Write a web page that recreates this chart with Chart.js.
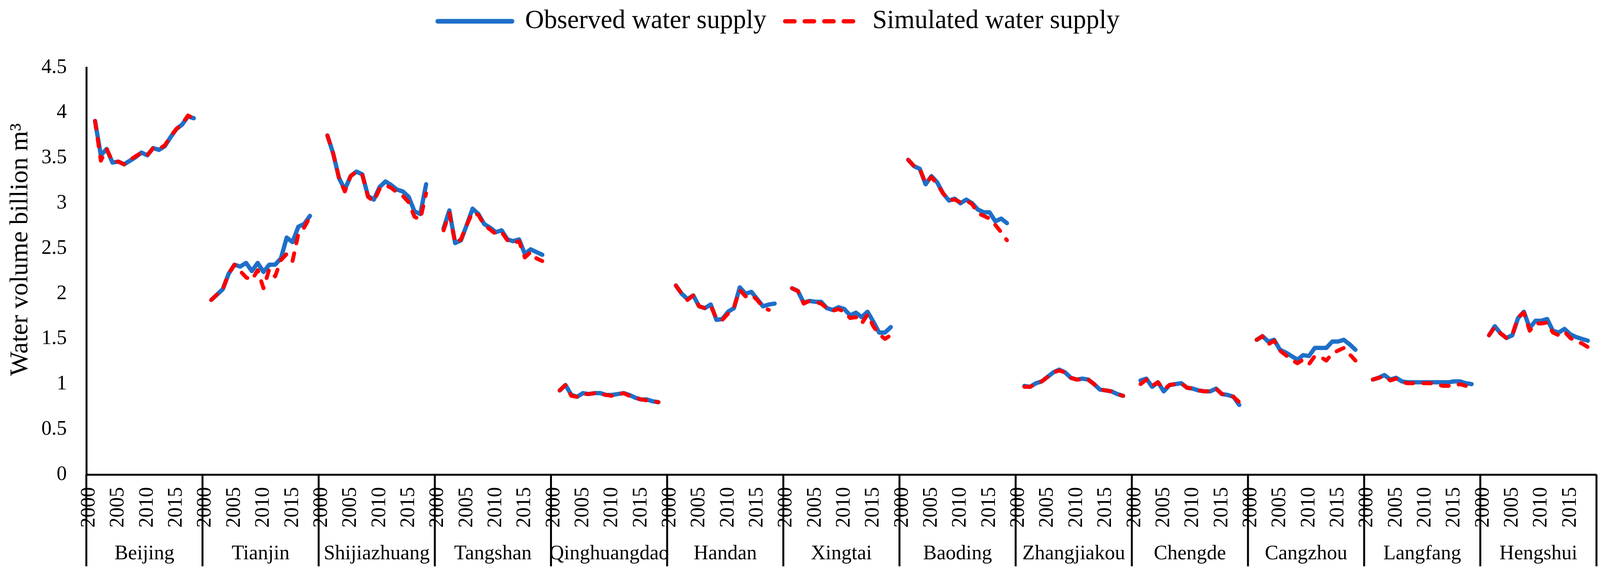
<!DOCTYPE html>
<html>
<head>
<meta charset="utf-8">
<script src="https://cdn.jsdelivr.net/npm/chart.js@4.4.0/dist/chart.umd.min.js"></script>
<style>
html,body{margin:0;padding:0;background:#fff;}
#wrap{width:4174px;height:1485px;}
</style>
</head>
<body>
<div id="wrap"><canvas id="c" width="4174" height="1485"></canvas></div>
<script>
// ---- categories ----
const cities = ['Beijing','Tianjin','Shijiazhuang','Tangshan','Qinghuangdao','Handan','Xingtai','Baoding','Zhangjiakou','Chengde','Cangzhou','Langfang','Hengshui'];
const axisYears = ['2000','2001','2002','2003','2004','2005','2006','2007','2008','2009','2010','2011','2012','2013','2014','2015','2016','2017','2018','2019'];
const shownYearLabels = ['2000','2005','2010','2015'];
const dataYears = ['2001','2002','2003','2004','2005','2006','2007','2008','2009','2010','2011','2012','2013','2014','2015','2016','2017','2018'];
const yTicks = [0,0.5,1,1.5,2,2.5,3,3.5,4,4.5];
const yTitle = 'Water volume billion m³';

// ---- observed water supply (billion m3), 2001-2018 ----
const obsBeijing      = [3.91,3.53,3.60,3.45,3.46,3.43,3.47,3.51,3.56,3.53,3.61,3.59,3.63,3.73,3.82,3.87,3.96,3.94];
const obsTianjin      = [1.93,1.99,2.05,2.22,2.32,2.30,2.34,2.25,2.34,2.24,2.32,2.32,2.39,2.62,2.57,2.74,2.77,2.86];
const obsShijiazhuang = [3.75,3.55,3.28,3.15,3.30,3.35,3.32,3.08,3.04,3.18,3.24,3.20,3.15,3.13,3.07,2.91,2.88,3.21];
const obsTangshan     = [2.72,2.92,2.56,2.59,2.76,2.94,2.88,2.77,2.73,2.68,2.70,2.60,2.58,2.60,2.44,2.49,2.46,2.43];
const obsQinghuangdao = [0.93,0.99,0.88,0.86,0.90,0.89,0.90,0.90,0.88,0.88,0.89,0.90,0.88,0.85,0.83,0.83,0.81,0.80];
const obsHandan       = [2.09,2.00,1.94,1.98,1.86,1.84,1.88,1.71,1.72,1.80,1.84,2.07,2.00,2.02,1.94,1.86,1.88,1.89];
const obsXingtai      = [2.06,2.03,1.90,1.92,1.91,1.91,1.84,1.82,1.85,1.83,1.76,1.79,1.74,1.80,1.69,1.57,1.57,1.63];
const obsBaoding      = [3.48,3.41,3.38,3.21,3.30,3.23,3.11,3.03,3.05,3.00,3.04,3.00,2.93,2.90,2.90,2.80,2.83,2.78];
const obsZhangjiakou  = [0.98,0.97,1.01,1.03,1.08,1.13,1.16,1.13,1.07,1.05,1.06,1.05,1.00,0.94,0.93,0.92,0.89,0.87];
const obsChengde      = [1.04,1.06,0.97,1.02,0.92,0.99,1.00,1.01,0.96,0.95,0.93,0.92,0.92,0.95,0.89,0.88,0.86,0.77];
const obsCangzhou     = [1.49,1.53,1.47,1.49,1.38,1.35,1.31,1.27,1.32,1.31,1.40,1.40,1.40,1.47,1.47,1.49,1.44,1.38];
const obsLangfang     = [1.05,1.07,1.10,1.05,1.07,1.03,1.02,1.02,1.02,1.02,1.02,1.02,1.02,1.02,1.03,1.03,1.01,1.00];
const obsHengshui     = [1.54,1.64,1.56,1.51,1.54,1.73,1.80,1.62,1.70,1.70,1.72,1.59,1.57,1.61,1.55,1.52,1.50,1.48];

// ---- simulated water supply (billion m3), 2001-2018 ----
const simBeijing      = [3.91,3.47,3.60,3.46,3.46,3.43,3.48,3.52,3.56,3.53,3.61,3.60,3.64,3.74,3.82,3.88,3.97,3.94];
const simTianjin      = [1.93,1.99,2.05,2.22,2.32,2.25,2.18,2.15,2.26,2.06,2.27,2.19,2.37,2.44,2.36,2.66,2.73,2.85];
const simShijiazhuang = [3.75,3.55,3.28,3.13,3.30,3.35,3.32,3.07,3.02,3.16,3.20,3.17,3.12,3.08,3.01,2.85,2.82,3.11];
const simTangshan     = [2.70,2.89,2.56,2.60,2.76,2.90,2.87,2.76,2.71,2.66,2.68,2.59,2.56,2.58,2.40,2.46,2.39,2.36];
const simQinghuangdao = [0.93,0.99,0.87,0.86,0.89,0.89,0.90,0.89,0.88,0.87,0.89,0.90,0.87,0.85,0.83,0.82,0.81,0.80];
const simHandan       = [2.09,2.00,1.93,1.98,1.86,1.84,1.87,1.72,1.71,1.78,1.85,2.04,1.97,1.99,1.93,1.85,1.82,null];
const simXingtai      = [2.06,2.03,1.89,1.92,1.91,1.89,1.84,1.81,1.83,1.80,1.73,1.74,1.67,1.77,1.64,1.55,1.50,1.54];
const simBaoding      = [3.48,3.41,3.38,3.22,3.29,3.21,3.11,3.03,3.04,3.01,3.03,2.99,2.89,2.86,2.83,2.76,2.68,2.59];
const simZhangjiakou  = [0.97,0.97,1.01,1.03,1.08,1.13,1.15,1.13,1.07,1.05,1.05,1.05,1.00,0.94,0.93,0.92,0.89,0.87];
const simChengde      = [1.00,1.05,0.98,1.02,0.94,0.99,1.00,1.01,0.96,0.95,0.93,0.92,0.92,0.95,0.89,0.88,0.86,0.80];
const simCangzhou     = [1.49,1.53,1.44,1.48,1.37,1.32,1.27,1.23,1.27,1.22,1.31,1.30,1.26,1.34,1.37,1.40,1.33,1.26];
const simLangfang     = [1.05,1.07,1.09,1.04,1.06,1.02,1.01,1.01,1.01,1.01,1.01,1.00,0.98,0.98,0.98,1.00,0.98,null];
const simHengshui     = [1.54,1.63,1.56,1.51,1.54,1.74,1.79,1.59,1.67,1.67,1.68,1.57,1.54,1.58,1.51,1.47,1.45,1.41];

const observedByCity = [obsBeijing,obsTianjin,obsShijiazhuang,obsTangshan,obsQinghuangdao,obsHandan,obsXingtai,obsBaoding,obsZhangjiakou,obsChengde,obsCangzhou,obsLangfang,obsHengshui];
const simulatedByCity = [simBeijing,simTianjin,simShijiazhuang,simTangshan,simQinghuangdao,simHandan,simXingtai,simBaoding,simZhangjiakou,simChengde,simCangzhou,simLangfang,simHengshui];

// ---- build flat category axis (city x year) ----
const labels = [];
const obsAll = [];
const simAll = [];
cities.forEach((c, g) => {
  axisYears.forEach(y => {
    labels.push(y);
    const k = dataYears.indexOf(y);
    obsAll.push(k >= 0 ? observedByCity[g][k] : null);
    simAll.push(k >= 0 ? simulatedByCity[g][k] : null);
  });
});

const BLUE = '#1f6fc8';
const RED = '#ff0000';
const FONT = 'Liberation Serif';
Chart.defaults.font.family = FONT;
Chart.defaults.color = '#000';

const legendBandPlugin = {
  id: 'legendBand',
  beforeLayout(chart) {
    const lg = chart.legend;
    if (lg && !lg._bandPatched) {
      const origFit = lg.fit;
      lg.fit = function () { origFit.call(this); this.height = 200; };
      const origDraw = lg.draw;
      lg.draw = function (...args) {
        const c = this.ctx;
        c.save();
        c.translate(-75, 0);
        origDraw.apply(this, args);
        c.restore();
      };
      lg._bandPatched = true;
    }
  }
};

const groupPlugin = {
  id: 'groups',
  afterDraw(chart) {
    const xs = chart.scales.x;
    const ys = chart.scales.y;
    const ctx = chart.ctx;
    const per = axisYears.length;
    ctx.save();
    ctx.strokeStyle = '#000';
    ctx.lineWidth = 5;
    for (let g = 0; g <= cities.length; g++) {
      const x = xs.getPixelForValue(g * per - 0.5);
      ctx.beginPath();
      ctx.moveTo(x, xs.top);
      ctx.lineTo(x, xs.bottom);
      ctx.stroke();
    }
    ctx.fillStyle = '#000';
    ctx.font = '52px "' + FONT + '"';
    ctx.textAlign = 'center';
    ctx.textBaseline = 'middle';
    cities.forEach((c, g) => {
      const x0 = xs.getPixelForValue(g * per - 0.5);
      const x1 = xs.getPixelForValue((g + 1) * per - 0.5);
      ctx.fillText(c, (x0 + x1) / 2, xs.bottom - 32);
    });
    // y-axis title
    ctx.translate(ys.left + 53, (ys.top + ys.bottom) / 2 - 55);
    ctx.rotate(-Math.PI / 2);
    ctx.font = '66px "' + FONT + '"';
    ctx.fillText(yTitle, 0, 0);
    ctx.restore();
  }
};

new Chart(document.getElementById('c').getContext('2d'), {
  type: 'line',
  data: {
    labels: labels,
    datasets: [
      {
        label: 'Observed water supply',
        data: obsAll,
        borderColor: BLUE,
        backgroundColor: BLUE,
        borderWidth: 11,
        pointRadius: 0,
        tension: 0,
        spanGaps: false,
        borderJoinStyle: 'round',
        borderCapStyle: 'round',
        order: 1
      },
      {
        label: 'Simulated water supply',
        data: simAll,
        borderColor: RED,
        backgroundColor: RED,
        borderWidth: 10,
        borderDash: [20, 26],
        pointRadius: 0,
        tension: 0,
        spanGaps: false,
        borderJoinStyle: 'round',
        borderCapStyle: 'round',
        order: 0
      }
    ]
  },
  options: {
    responsive: false,
    animation: false,
    devicePixelRatio: 1,
    layout: { padding: { top: -27, left: 0, right: 37, bottom: 35 } },
    plugins: {
      tooltip: { enabled: false },
      legend: {
        position: 'top',
        labels: {
          usePointStyle: true,
          pointStyle: 'line',
          pointStyleWidth: 190,
          padding: 48,
          color: '#000',
          font: { family: FONT, size: 67 },
          sort: (a, b) => a.datasetIndex - b.datasetIndex,
          generateLabels: chart => {
            const items = Chart.defaults.plugins.legend.labels.generateLabels(chart);
            items.forEach(it => {
              const ds = chart.data.datasets[it.datasetIndex];
              it.lineDash = ds.borderDash ? [24, 26] : [];
              it.lineWidth = ds.borderWidth + 1;
              it.lineCap = 'round';
              it.strokeStyle = ds.borderColor;
              it.fillStyle = ds.borderColor;
            });
            return items;
          }
        }
      }
    },
    scales: {
      x: {
        type: 'category',
        offset: true,
        grid: { display: false, drawTicks: false },
        border: { display: true, color: '#000', width: 5 },
        ticks: {
          autoSkip: false,
          minRotation: 90,
          maxRotation: 90,
          padding: 32,
          color: '#000',
          font: { family: FONT, size: 52 },
          callback: function (value, index) {
            const lab = labels[index];
            return shownYearLabels.includes(lab) ? lab : '';
          }
        },
        afterFit: s => { s.height = 235; }
      },
      y: {
        min: 0,
        max: 4.5,
        afterBuildTicks: s => { s.ticks = yTicks.map(v => ({ value: v })); },
        grid: { display: false, drawTicks: false },
        border: { display: true, color: '#000', width: 5 },
        ticks: {
          padding: 50,
          color: '#000',
          font: { family: FONT, size: 52 },
          callback: v => String(v)
        },
        afterFit: s => { s.width = 221; }
      }
    }
  },
  plugins: [legendBandPlugin, groupPlugin]
});
</script>
</body>
</html>
